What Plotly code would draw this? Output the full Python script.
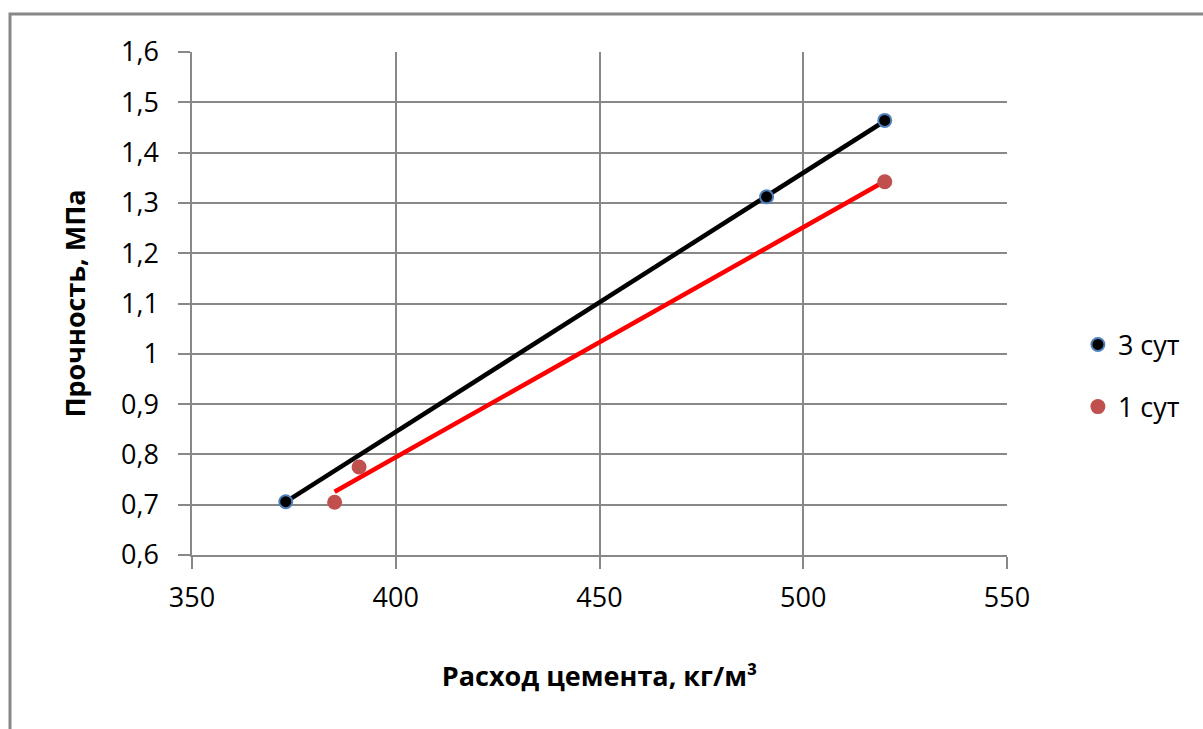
import numpy as np
import plotly.graph_objects as go

# Data
x_3 = [373, 491, 520]
y_3 = [0.706, 1.312, 1.464]
x_1 = [385, 391, 520]
y_1 = [0.705, 0.775, 1.342]

series_names = ["3 сут", "1 сут"]
x_title = "Расход цемента, кг/м³"
y_title = "Прочность, МПа"

FONT = "Open Sans"

def trend(xs, ys):
    k, b = np.polyfit(xs, ys, 1)
    xe = [min(xs), max(xs)]
    return xe, [k * v + b for v in xe]

fig = go.Figure()

tx3, ty3 = trend(x_3, y_3)
tx1, ty1 = trend(x_1, y_1)

fig.add_trace(go.Scatter(x=tx3, y=ty3, mode="lines", line=dict(color="black", width=4.5),
                         showlegend=False, hoverinfo="skip"))
fig.add_trace(go.Scatter(x=tx1, y=ty1, mode="lines", line=dict(color="#FF0000", width=4.5),
                         showlegend=False, hoverinfo="skip"))

fig.add_trace(go.Scatter(x=x_3, y=y_3, mode="markers", name=series_names[0], legendgroup="a",
                         marker=dict(color="black", size=13, line=dict(color="#4F81BD", width=2))))
fig.add_trace(go.Scatter(x=x_1, y=y_1, mode="markers", name=series_names[1], legendgroup="b",
                         marker=dict(color="#C0504D", size=15, line=dict(color="#C0504D", width=0))))

axis_common = dict(showgrid=True, gridcolor="#888888", gridwidth=1.5,
                   showline=True, linecolor="#888888", linewidth=1.5,
                   ticks="outside", ticklen=12, tickcolor="#888888", tickwidth=1.5,
                   zeroline=False, tickfont=dict(family=FONT, size=27, color="black"))

fig.update_xaxes(range=[350, 550], dtick=50, tick0=350, ticklabelstandoff=6,
                 title=dict(text=x_title, font=dict(family=FONT, size=27, color="black", weight="bold"),
                            standoff=53),
                 **axis_common)
fig.update_yaxes(range=[0.6, 1.6], dtick=0.1, tick0=0.6, ticklabelstandoff=14,
                 title=dict(text=y_title, font=dict(family=FONT, size=27, color="black", weight="bold"),
                            standoff=28),
                 **axis_common)

# Outer chart border
fig.add_shape(type="rect", xref="paper", yref="paper",
              x0=(10 - 192) / 815, x1=1.4, y0=-0.6, y1=(555 - 14) / 503,
              line=dict(color="#888888", width=3), fillcolor="rgba(0,0,0,0)", layer="below")

fig.update_layout(
    width=1203, height=729,
    margin=dict(l=192, r=196, t=52, b=174),
    paper_bgcolor="white", plot_bgcolor="white",
    separators=", ",
    font=dict(family=FONT, color="black"),
    legend=dict(x=1.087, y=0.356, xanchor="left", yanchor="middle",
                font=dict(family=FONT, size=27, color="black"),
                traceorder="grouped", tracegroupgap=24, itemwidth=30,
                bgcolor="rgba(0,0,0,0)"),
)

fig.write_html("out.html")
